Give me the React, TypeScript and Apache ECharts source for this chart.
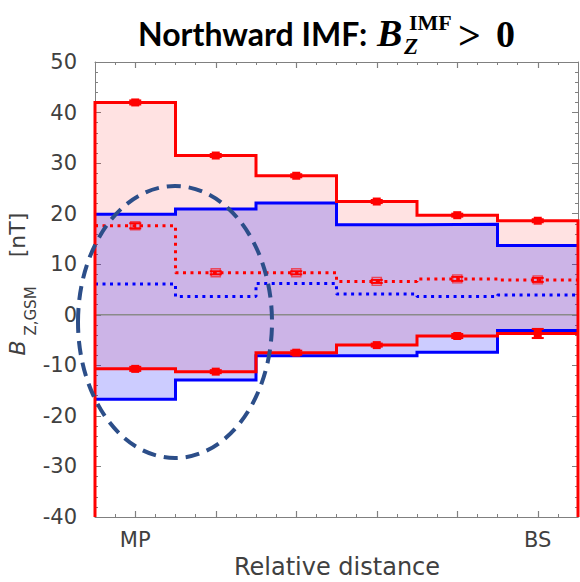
import React, { useEffect, useRef } from "react";
import * as echarts from "echarts";

// ---- data ----
const binEdges = [0, 1, 2, 3, 4, 5, 6];
const binCenters = [0.5, 1.5, 2.5, 3.5, 4.5, 5.5];
const xLabelPositions = [0.5, 5.5];
const xLabelTexts = ["MP", "BS"];

const redUpper = [42.0, 31.5, 27.5, 22.4, 19.7, 18.6];
const redMedian = [17.6, 8.3, 8.3, 6.6, 7.1, 6.9];
const redLower = [-10.7, -11.25, -7.5, -6.0, -4.2, -3.7];
const blueUpper = [19.9, 20.9, 22.1, 17.8, 17.9, 13.7];
const blueMedian = [6.1, 3.6, 6.2, 4.1, 3.6, 3.9];
const blueLower = [-16.7, -12.9, -8.1, -8.1, -7.4, -3.1];

const redUpperErr = [0.4, 0.3, 0.3, 0.3, 0.3, 0.3];
const redMedianErr = [0.5, 0.3, 0.3, 0.3, 0.4, 0.4];
const redLowerErr = [0.4, 0.3, 0.4, 0.3, 0.4, 0.9];

const yMin = -40;
const yMax = 50;
const yInterval = 10;

const RED = "#ff0000";
const BLUE = "#0000ff";
const AXIS_GRAY = "#808080";
const TEXT_GRAY = "#404040";
const FONT = '"DejaVu Sans", sans-serif';

function stepData(vals: number[], dropToBottom = false) {
  const pts: number[][] = [];
  if (dropToBottom) pts.push([binEdges[0], yMin]);
  vals.forEach((v, i) => pts.push([binEdges[i], v]));
  pts.push([binEdges[binEdges.length - 1], vals[vals.length - 1]]);
  if (dropToBottom) pts.push([binEdges[binEdges.length - 1], yMin]);
  return pts;
}

function bandSeries(upper: number[], lower: number[], color: string) {
  return {
    type: "custom",
    coordinateSystem: "cartesian2d",
    xAxisIndex: 0,
    yAxisIndex: 0,
    silent: true,
    data: [[0, 0]],
    renderItem: (_params: any, api: any) => {
      const pts: number[][] = [];
      for (let i = 0; i < upper.length; i++) {
        pts.push(api.coord([binEdges[i], upper[i]]));
        pts.push(api.coord([binEdges[i + 1], upper[i]]));
      }
      for (let i = lower.length - 1; i >= 0; i--) {
        pts.push(api.coord([binEdges[i + 1], lower[i]]));
        pts.push(api.coord([binEdges[i], lower[i]]));
      }
      return { type: "polygon", shape: { points: pts }, style: { fill: color } };
    },
  };
}

function stepLine(vals: number[], color: string, dotted: boolean, drop = false, z = 3) {
  return {
    type: "line",
    xAxisIndex: 0,
    yAxisIndex: 0,
    step: "end",
    clip: false,
    symbol: "none",
    silent: true,
    z,
    data: stepData(vals, drop),
    lineStyle: dotted
      ? { color, width: 3, type: [3, 4.5], cap: "butt" }
      : { color, width: 3, type: "solid", join: "miter" },
  };
}

function markers(vals: number[], filled: boolean) {
  return {
    type: "scatter",
    xAxisIndex: 0,
    yAxisIndex: 0,
    symbol: "rect",
    symbolSize: filled ? [8, 8] : [9, 8],
    silent: true,
    z: 6,
    data: binCenters.map((x, i) => [x, vals[i]]),
    itemStyle: filled
      ? { color: RED, opacity: 1 }
      : { color: "rgba(255,0,0,0.08)", borderColor: "rgba(255,0,0,0.75)", borderWidth: 1.5 },
  };
}

function errorBars(vals: number[], errs: number[]) {
  return {
    type: "custom",
    coordinateSystem: "cartesian2d",
    xAxisIndex: 0,
    yAxisIndex: 0,
    silent: true,
    z: 6,
    data: binCenters.map((x, i) => [x, vals[i], errs[i]]),
    renderItem: (_params: any, api: any) => {
      const x = api.value(0);
      const y = api.value(1);
      const e = api.value(2);
      const top = api.coord([x, y + e]);
      const bot = api.coord([x, y - e]);
      const h = 6;
      const style = { stroke: RED, lineWidth: 2 };
      return {
        type: "group",
        children: [
          { type: "line", shape: { x1: top[0], y1: top[1], x2: bot[0], y2: bot[1] }, style },
          { type: "line", shape: { x1: top[0] - h, y1: top[1], x2: top[0] + h, y2: top[1] }, style },
          { type: "line", shape: { x1: bot[0] - h, y1: bot[1], x2: bot[0] + h, y2: bot[1] }, style },
        ],
      };
    },
  };
}

export default function App() {
  const ref = useRef<HTMLDivElement>(null);

  useEffect(() => {
    if (!ref.current) return;
    const chart = echarts.init(ref.current, undefined, { renderer: "svg" });

    const gridRect = { left: 95, top: 62, width: 483, height: 455 };
    const minorX = (position: string, gridIndex: number) => ({
      type: "value",
      gridIndex,
      position,
      min: 0,
      max: 6,
      interval: 0.25,
      axisLine: { show: true, onZero: false, lineStyle: { color: AXIS_GRAY, width: 1 } },
      axisTick: { show: true, inside: true, length: 3, lineStyle: { color: AXIS_GRAY, width: 1 } },
      axisLabel: { show: false },
      splitLine: { show: false },
    });
    const majorX = (position: string, gridIndex: number, labels: boolean) => ({
      type: "value",
      gridIndex,
      position,
      min: 0,
      max: 6,
      axisLine: { show: false, onZero: false },
      axisTick: {
        show: true,
        inside: true,
        length: 6,
        customValues: binCenters,
        lineStyle: { color: AXIS_GRAY, width: 1.2 },
      },
      axisLabel: labels
        ? {
            show: true,
            customValues: xLabelPositions,
            formatter: (v: number) => xLabelTexts[xLabelPositions.indexOf(v)] ?? "",
            margin: 12,
            fontSize: 21,
            fontFamily: FONT,
            color: TEXT_GRAY,
          }
        : { show: false },
      splitLine: { show: false },
    });
    const yAx = (position: string, gridIndex: number, labels: boolean, show = true) => ({
      type: "value",
      gridIndex,
      position,
      show,
      min: yMin,
      max: yMax,
      interval: yInterval,
      axisLine: { show: true, onZero: false, lineStyle: { color: AXIS_GRAY, width: 1 } },
      axisTick: { show: true, inside: true, length: 6, lineStyle: { color: AXIS_GRAY, width: 1 } },
      minorTick: { show: true, splitNumber: 5, length: 3, lineStyle: { color: AXIS_GRAY, width: 1 } },
      axisLabel: labels
        ? { show: true, margin: 18, fontSize: 21, fontFamily: FONT, color: TEXT_GRAY }
        : { show: false },
      splitLine: { show: false },
      minorSplitLine: { show: false },
    });

    const option: any = {
      animation: false,
      backgroundColor: "#ffffff",
      grid: [
        { ...gridRect, containLabel: false },
        { ...gridRect, containLabel: false },
      ],
      xAxis: [
        minorX("bottom", 0),
        minorX("top", 0),
        majorX("bottom", 1, true),
        majorX("top", 1, false),
      ],
      yAxis: [yAx("left", 0, true), yAx("right", 0, false), yAx("left", 1, false, false)],
      series: [
        bandSeries(redUpper, redLower, "rgba(255,0,0,0.115)"),
        bandSeries(blueUpper, blueLower, "rgba(0,0,255,0.2)"),
        {
          type: "line",
          xAxisIndex: 0,
          yAxisIndex: 0,
          symbol: "none",
          silent: true,
          data: [
            [binEdges[0], 0],
            [binEdges[binEdges.length - 1], 0],
          ],
          lineStyle: { color: "#8a8a8a", width: 1.5 },
          z: 2,
        },
        stepLine(blueMedian, BLUE, true),
        stepLine(redMedian, RED, true),
        stepLine(blueUpper, BLUE, false),
        stepLine(blueLower, BLUE, false),
        stepLine(redLower, RED, false, false, 4),
        stepLine(redUpper, RED, false, true, 4),
        markers(redUpper, true),
        markers(redLower, true),
        markers(redMedian, false),
        errorBars(redUpper, redUpperErr),
        errorBars(redLower, redLowerErr),
        errorBars(redMedian, redMedianErr),
      ],
      graphic: [
        {
          type: "ellipse",
          z: 100,
          shape: { cx: 175, cy: 322, rx: 97, ry: 136 },
          style: { fill: "none", stroke: "#2c4e89", lineWidth: 4, lineDash: [14, 8] },
        },
        {
          type: "text",
          x: 138,
          y: 33,
          style: {
            text: "Northward IMF:",
            font: 'bold 32px Lato, "Liberation Sans", sans-serif',
            fill: "#000",
            align: "left",
            verticalAlign: "middle",
          },
        },
        {
          type: "text",
          x: 377,
          y: 33,
          style: {
            text: "B",
            font: 'italic bold 38px "Liberation Serif", serif',
            fill: "#000",
            align: "left",
            verticalAlign: "middle",
          },
        },
        {
          type: "text",
          x: 404,
          y: 46,
          style: {
            text: "Z",
            font: 'italic bold 23px "Liberation Serif", serif',
            fill: "#000",
            align: "left",
            verticalAlign: "middle",
          },
        },
        {
          type: "text",
          x: 409,
          y: 22,
          style: {
            text: "IMF",
            font: 'bold 22px "Liberation Serif", serif',
            fill: "#000",
            align: "left",
            verticalAlign: "middle",
          },
        },
        {
          type: "text",
          x: 458,
          y: 35,
          style: {
            text: ">",
            font: 'bold 40px "Liberation Serif", serif',
            fill: "#000",
            align: "left",
            verticalAlign: "middle",
          },
        },
        {
          type: "text",
          x: 496,
          y: 34,
          style: {
            text: "0",
            font: 'bold 38px "Liberation Serif", serif',
            fill: "#000",
            align: "left",
            verticalAlign: "middle",
          },
        },
        {
          type: "text",
          x: 17,
          y: 348,
          rotation: Math.PI / 2,
          style: {
            text: "B",
            font: "italic 22px " + FONT,
            fill: TEXT_GRAY,
            align: "center",
            verticalAlign: "middle",
          },
        },
        {
          type: "text",
          x: 31,
          y: 311,
          rotation: Math.PI / 2,
          style: {
            text: "Z,GSM",
            font: "15px " + FONT,
            fill: TEXT_GRAY,
            align: "center",
            verticalAlign: "middle",
          },
        },
        {
          type: "text",
          x: 17,
          y: 235,
          rotation: Math.PI / 2,
          style: {
            text: "[nT]",
            font: "22px " + FONT,
            fill: TEXT_GRAY,
            align: "center",
            verticalAlign: "middle",
          },
        },
        {
          type: "text",
          x: 337,
          y: 567,
          style: {
            text: "Relative distance",
            font: "24px " + FONT,
            fill: TEXT_GRAY,
            align: "center",
            verticalAlign: "middle",
          },
        },
      ],
    };

    chart.setOption(option);
    return () => chart.dispose();
  }, []);

  return (
    <div
      ref={ref}
      style={{ position: "fixed", left: 0, top: 0, width: 580, height: 582, background: "#fff" }}
    />
  );
}
